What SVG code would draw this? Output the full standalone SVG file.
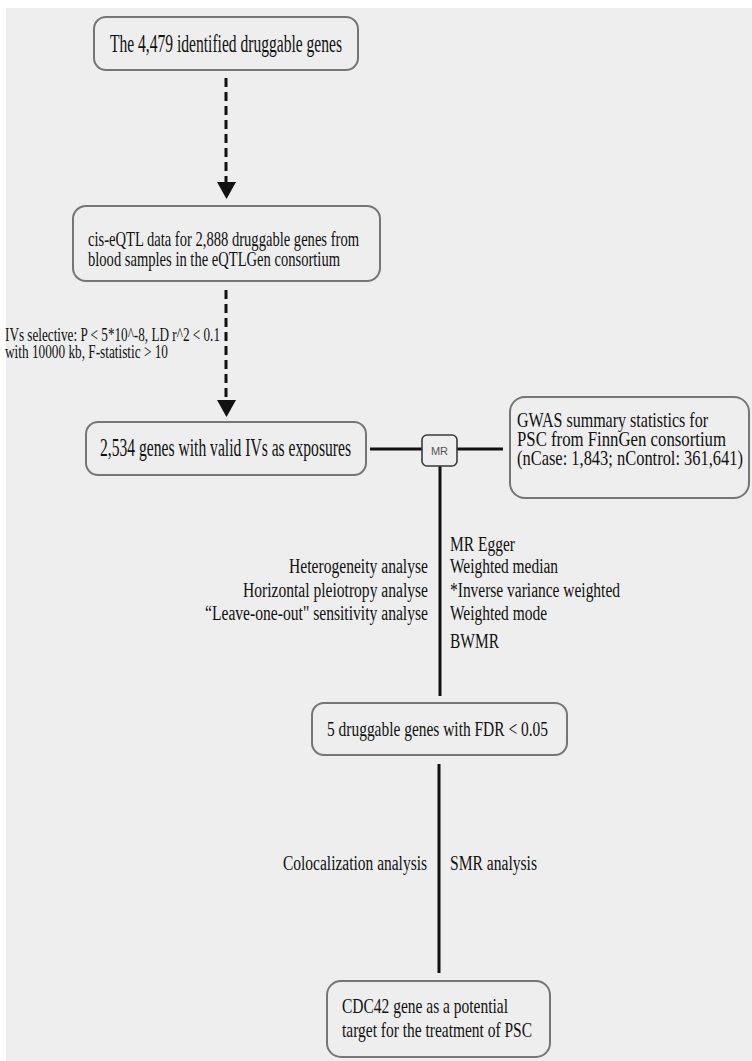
<svg xmlns="http://www.w3.org/2000/svg" width="752" height="1061" viewBox="0 0 752 1061">
<defs>
<style>
.box{fill:none;stroke:#767676;stroke-width:2}
.mr{fill:none;stroke:#3a3a3a;stroke-width:1.6}
.t{font-family:"Liberation Serif","Times New Roman",serif;fill:#111}
.line{stroke:#111;stroke-width:3;fill:none}
.dash{stroke:#111;stroke-width:3;fill:none;stroke-dasharray:9 5}
.ah{fill:#111}
</style>
</defs>
<rect x="0" y="0" width="752" height="1061" fill="#ffffff"/>
<rect x="6" y="8" width="746" height="1053" fill="#eeeeee"/>

<g id="connectors">
<line class="dash" x1="226" y1="78" x2="226" y2="182"/>
<polygon class="ah" points="217,182 236,182 226.5,199"/>
<line class="dash" x1="226" y1="290" x2="226" y2="400"/>
<polygon class="ah" points="217,400 236,400 226.5,417"/>
<line class="line" x1="370" y1="449" x2="422" y2="449"/>
<line class="line" x1="457" y1="449" x2="503" y2="449"/>
<line class="line" x1="440" y1="466" x2="440" y2="696"/>
<line class="line" x1="439" y1="764" x2="439" y2="973"/>
</g>

<g id="n1">
<rect class="box" x="94" y="17" width="264" height="53" rx="12"/>
<text class="t" x="110" y="52" font-size="25" textLength="232" lengthAdjust="spacingAndGlyphs">The 4,479 identified druggable genes</text>
</g>

<g id="n2">
<rect class="box" x="73" y="206" width="307" height="75" rx="13"/>
<text class="t" x="88" y="246" font-size="21" textLength="271" lengthAdjust="spacingAndGlyphs">cis-eQTL data for 2,888 druggable genes from</text>
<text class="t" x="88" y="266" font-size="21" textLength="252" lengthAdjust="spacingAndGlyphs">blood samples in the eQTLGen consortium</text>
</g>

<g id="label-ivs">
<text class="t" x="5" y="341" font-size="18" textLength="215" lengthAdjust="spacingAndGlyphs">IVs selective: P &lt; 5*10^-8, LD r^2 &lt; 0.1</text>
<text class="t" x="5" y="358" font-size="18" textLength="163" lengthAdjust="spacingAndGlyphs">with 10000 kb, F-statistic &gt; 10</text>
</g>

<g id="n3">
<rect class="box" x="86" y="422" width="280" height="53" rx="12"/>
<text class="t" x="100" y="456" font-size="25" textLength="251" lengthAdjust="spacingAndGlyphs">2,534 genes with valid IVs as exposures</text>
</g>

<g id="mr">
<rect class="mr" x="422" y="435" width="35" height="31" rx="5"/>
<text x="439.5" y="455" font-size="11" font-family="Liberation Sans,Arial,sans-serif" fill="#555" text-anchor="middle">MR</text>
</g>

<g id="n-gwas">
<rect class="box" x="510" y="397" width="239" height="101" rx="15"/>
<text class="t" x="517" y="427" font-size="21" textLength="191" lengthAdjust="spacingAndGlyphs">GWAS summary statistics for</text>
<text class="t" x="517" y="446" font-size="21" textLength="209" lengthAdjust="spacingAndGlyphs">PSC from FinnGen consortium</text>
<text class="t" x="517" y="465" font-size="21" textLength="226" lengthAdjust="spacingAndGlyphs">(nCase: 1,843; nControl: 361,641)</text>
</g>

<g id="label-sens">
<text class="t" x="289" y="573" font-size="20" textLength="139" lengthAdjust="spacingAndGlyphs">Heterogeneity analyse</text>
<text class="t" x="243" y="597" font-size="20" textLength="185" lengthAdjust="spacingAndGlyphs">Horizontal pleiotropy analyse</text>
<text class="t" x="205" y="620" font-size="20" textLength="223" lengthAdjust="spacingAndGlyphs">“Leave-one-out" sensitivity analyse</text>
</g>

<g id="label-methods">
<text class="t" x="450" y="551" font-size="20" textLength="65" lengthAdjust="spacingAndGlyphs">MR Egger</text>
<text class="t" x="450" y="573" font-size="20" textLength="108" lengthAdjust="spacingAndGlyphs">Weighted median</text>
<text class="t" x="450" y="597" font-size="20" textLength="170" lengthAdjust="spacingAndGlyphs">*Inverse variance weighted</text>
<text class="t" x="450" y="620" font-size="20" textLength="97" lengthAdjust="spacingAndGlyphs">Weighted mode</text>
<text class="t" x="450" y="648" font-size="20" textLength="49" lengthAdjust="spacingAndGlyphs">BWMR</text>
</g>

<g id="n4">
<rect class="box" x="312" y="703" width="255" height="52" rx="12"/>
<text class="t" x="327" y="736" font-size="22" textLength="221" lengthAdjust="spacingAndGlyphs">5 druggable genes with FDR &lt; 0.05</text>
</g>

<g id="label-coloc">
<text class="t" x="283" y="870" font-size="20" textLength="144" lengthAdjust="spacingAndGlyphs">Colocalization analysis</text>
<text class="t" x="450" y="870" font-size="20" textLength="87" lengthAdjust="spacingAndGlyphs">SMR analysis</text>
</g>

<g id="n5">
<rect class="box" x="327" y="981" width="223" height="76" rx="14"/>
<text class="t" x="342" y="1013" font-size="21" textLength="166" lengthAdjust="spacingAndGlyphs">CDC42 gene as a potential</text>
<text class="t" x="342" y="1037" font-size="21" textLength="190" lengthAdjust="spacingAndGlyphs">target for the treatment of PSC</text>
</g>
</svg>
